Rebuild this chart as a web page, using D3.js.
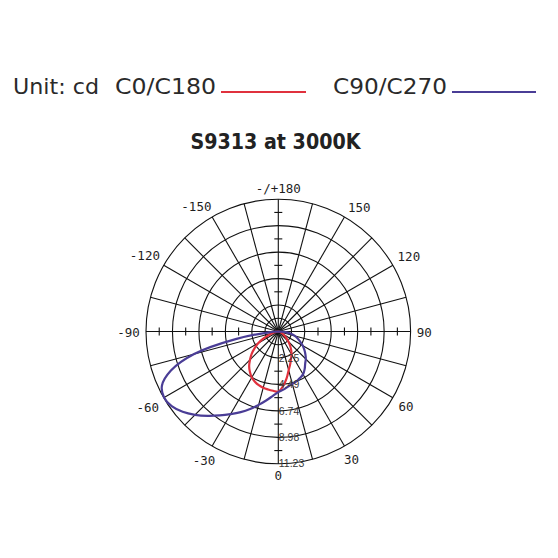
<!DOCTYPE html>
<html>
<head>
<meta charset="utf-8">
<script src="https://cdn.jsdelivr.net/npm/d3@7"></script>
<style>
  html, body { margin: 0; padding: 0; background: #fff; }
  svg { display: block; }
</style>
</head>
<body>
<svg id="chart" width="558" height="558"></svg>
<script>
// ---------------- data ----------------
const chartTitle = "S9313 at 3000K";
const unitLabel = "Unit: cd";
const seriesNames = ["C0/C180", "C90/C270"];
const seriesColors = ["#e0313d", "#4a3d96"];

// gamma angles (deg), 0 = straight down, positive = right half
const gammaAngles = [-90,-85,-80,-75,-70,-65,-60,-55,-50,-45,-40,-35,-30,-25,-20,-15,-10,-5,
                     0,5,10,15,20,25,30,35,40,45,50,55,60,65,70,75,80,85,90];
// intensity values (cd)
const c0c180 = [0,0.1,0.3,0.5,0.85,1.35,1.95,2.45,2.95,3.4,3.85,4.2,4.5,4.7,4.85,4.95,5.0,5.05,
                5.1,4.65,4.05,3.4,2.95,2.55,2.25,1.9,1.55,1.2,0.9,0.7,0.5,0.35,0.25,0.15,0.1,0.05,0];
const c90c270 = [0,0.8,3.6,7.4,9.7,10.9,11.2,11.05,10.6,10.0,9.35,8.7,8.1,7.55,7.0,6.45,5.95,5.5,
                 5.15,4.95,4.75,4.6,4.5,4.35,4.2,3.9,3.55,3.3,3.0,2.7,2.4,2.05,1.75,1.45,1.1,0.6,0];

// radial rings and labels
const ringValues = [2.246, 4.492, 6.738, 8.984, 11.23];
const ringLabels = ["2.25", "4.49", "6.74", "8.98", "11.23"];
const maxValue = 11.23;

// angle labels
const angleTicks = [0, 30, 60, 90, 120, 150, 180, -150, -120, -90, -60, -30];
const angleTickLabels = ["0", "30", "60", "90", "120", "150", "-/+180", "-150", "-120", "-90", "-60", "-30"];
const spokeAngles = d3.range(0, 360, 15);

// ---------------- layout ----------------
const svg = d3.select("#chart");
const cx = 278.3, cy = 331.5, R = 132.3;
const r = d3.scaleLinear().domain([0, maxValue]).range([0, R]);
const toRad = d => d * Math.PI / 180;
// screen position for gamma (0 = down, + = right)
const pos = (g, rr) => [cx + rr * Math.sin(toRad(g)), cy + rr * Math.cos(toRad(g))];

// Legend
const legend = svg.append("g").attr("font-family", "'DejaVu Sans', sans-serif")
  .attr("font-size", 22).attr("fill", "#2a2a2a");
legend.append("text").attr("x", 13).attr("y", 94).text(unitLabel)
  .attr("textLength", 86).attr("lengthAdjust", "spacingAndGlyphs");
legend.append("text").attr("x", 115).attr("y", 94).text(seriesNames[0])
  .attr("textLength", 101).attr("lengthAdjust", "spacingAndGlyphs");
legend.append("line").attr("x1", 221).attr("x2", 306).attr("y1", 92).attr("y2", 92)
  .attr("stroke", seriesColors[0]).attr("stroke-width", 2);
legend.append("text").attr("x", 333).attr("y", 94).text(seriesNames[1])
  .attr("textLength", 114).attr("lengthAdjust", "spacingAndGlyphs");
legend.append("line").attr("x1", 452).attr("x2", 536).attr("y1", 92).attr("y2", 92)
  .attr("stroke", seriesColors[1]).attr("stroke-width", 2);

// Title
svg.append("text").attr("x", 275.5).attr("y", 149).attr("text-anchor", "middle")
  .attr("font-family", "'DejaVu Sans', sans-serif").attr("font-weight", "bold")
  .attr("font-size", 22).attr("fill", "#222")
  .attr("textLength", 170).attr("lengthAdjust", "spacingAndGlyphs")
  .text(chartTitle);

// Grid
const grid = svg.append("g").attr("stroke", "#111").attr("fill", "none").attr("stroke-width", 1.1);
grid.selectAll("circle.ring").data([ringValues[0] / 2].concat(ringValues)).join("circle")
  .attr("class", "ring").attr("cx", cx).attr("cy", cy).attr("r", d => r(d));
grid.selectAll("line.spoke").data(spokeAngles).join("line")
  .attr("class", "spoke")
  .attr("x1", cx).attr("y1", cy)
  .attr("x2", d => pos(d, R)[0]).attr("y2", d => pos(d, R)[1]);

// axis ticks at mid-ring positions
const step = ringValues[0];
const tickVals = d3.range(1, 5).map(k => (k + 0.5) * step);
const tl = 4;
tickVals.forEach(v => {
  const rr = r(v);
  [1, -1].forEach(sy => {
    grid.append("line").attr("x1", cx - tl).attr("x2", cx + tl)
      .attr("y1", cy + sy * rr).attr("y2", cy + sy * rr);
  });
  [1, -1].forEach(sx => {
    grid.append("line").attr("y1", cy - tl).attr("y2", cy + tl)
      .attr("x1", cx + sx * rr).attr("x2", cx + sx * rr);
  });
});

// Curves
const lineGen = d3.lineRadial()
  .angle(d => toRad(180 - d[0]))
  .radius(d => r(d[1]))
  .curve(d3.curveCatmullRomClosed.alpha(0.5));
const curves = svg.append("g").attr("transform", `translate(${cx},${cy})`);
[c0c180, c90c270].forEach((vals, i) => {
  const pts = gammaAngles.map((g, j) => [g, vals[j]]);
  curves.append("path").attr("d", lineGen(pts))
    .attr("fill", "none").attr("stroke", seriesColors[i]).attr("stroke-width", 2.2)
    .attr("stroke-linejoin", "round");
});

// Ring labels
svg.append("g").attr("font-family", "'Liberation Sans', Arial, sans-serif")
  .attr("font-size", 10.5).attr("fill", "#3a3a3a")
  .selectAll("text").data(ringValues).join("text")
  .attr("x", cx + 0.5).attr("y", d => cy + r(d)).attr("dy", "0.35em")
  .text((d, i) => ringLabels[i]);

// Angle labels
const al = svg.append("g").attr("font-family", "'DejaVu Sans Mono', monospace")
  .attr("font-size", 12.5).attr("fill", "#1e1e1e").attr("text-anchor", "middle");
angleTicks.forEach((a, i) => {
  const t = al.append("text").text(angleTickLabels[i]).attr("dy", "0.35em");
  const w = t.node().getComputedTextLength();
  const off = 138.5 + Math.abs(Math.sin(toRad(a))) * w / 2 + Math.abs(Math.cos(toRad(a))) * 5;
  // labels near the top diagonals sit slightly rotated towards the horizontal
  const pa = Math.abs(a) === 150 ? a - Math.sign(a) * 3 : a;
  const p = pos(pa, off);
  t.attr("x", p[0]).attr("y", p[1] + 1);
});
</script>
</body>
</html>
